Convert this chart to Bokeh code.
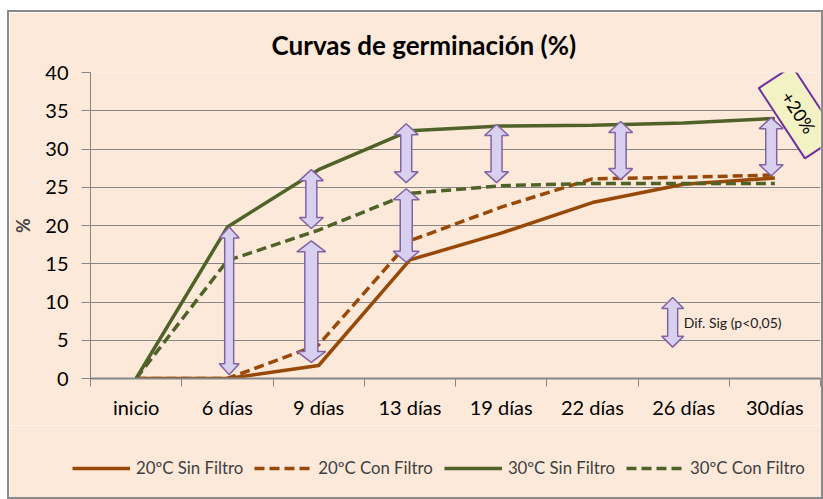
from bokeh.plotting import figure
from bokeh.models import FixedTicker, Legend, LegendItem, Range1d
from bokeh.layouts import column
from bokeh.core.properties import value
from bokeh.embed import file_html
from bokeh.resources import INLINE

categories = ["inicio", "6 días", "9 días", "13 días", "19 días", "22 días", "26 días", "30días"]
s20_sin = [0, 0, 1.7, 15.5, 19.0, 23.0, 25.4, 26.2]
s20_con = [0, 0, 4.4, 18.0, 22.4, 26.1, 26.3, 26.6]
s30_sin = [0, 19.8, 27.3, 32.4, 33.0, 33.1, 33.4, 34.0]
s30_con = [0, 15.4, 19.4, 24.2, 25.2, 25.5, 25.5, 25.5]
series_labels = ["20ºC Sin Filtro", "20ºC Con Filtro", "30ºC Sin Filtro", "30ºC Con Filtro"]

# significance arrows: x position (category units), bottom, top, sizes (px shaft half, head half)
arrow_x = [1.52, 2.42, 2.42, 3.46, 3.46, 4.45, 5.81, 7.46, 6.38]
arrow_bot = [0.5, 2.1, 19.6, 25.6, 15.2, 25.6, 26.0, 26.5, 4.1]
arrow_top = [19.8, 18.0, 27.3, 33.3, 24.8, 33.2, 33.6, 34.1, 10.6]
arrow_shaft = [4.5, 6.5, 5.5, 5.5, 6.0, 5.5, 5.5, 5.5, 5.0]
arrow_head = [10, 14.5, 12, 12, 13, 12, 12, 12, 11]

BG = "#FDE9D9"
BROWN = "#984807"
GREEN = "#4F6228"
GRID = "#868686"
FONT = "Lato"

W = 812
H_MAIN = 413
H_LEG = 72
ML, MR, MT, MB = 80, 1, 60, 47

p = figure(width=W, height=H_MAIN, output_backend="svg", toolbar_location=None,
           x_range=Range1d(0, 8), y_range=Range1d(0, 40),
           min_border_left=ML, min_border_right=MR, min_border_top=MT, min_border_bottom=MB,
           title="Curvas de germinación (%)")
p.background_fill_color = BG
p.border_fill_color = BG
p.outline_line_color = None

p.title.align = "left"
p.title.text_font = FONT
p.title.text_font_size = "26px"
p.title.text_font_style = "bold"
p.title.text_color = "#000000"
p.title.offset = 181
p.title.standoff = 23

# axes
p.xgrid.visible = False
p.ygrid.grid_line_color = GRID
p.ygrid.grid_line_width = 1
p.yaxis.ticker = FixedTicker(ticks=list(range(0, 41, 5)), minor_ticks=[])
p.yaxis.axis_line_color = GRID
p.yaxis.major_tick_line_color = GRID
p.yaxis.major_tick_out = 9
p.yaxis.major_tick_in = 0
p.yaxis.major_label_standoff = 13
p.yaxis.major_label_text_font = FONT
p.yaxis.major_label_text_font_size = "20px"
p.yaxis.major_label_text_color = "#000000"
p.yaxis.axis_label = "%"
p.yaxis.axis_label_text_font = FONT
p.yaxis.axis_label_text_font_size = "18px"
p.yaxis.axis_label_text_font_style = "bold"
p.yaxis.axis_label_standoff = 8

centers = [i + 0.5 for i in range(len(categories))]
p.xaxis.ticker = FixedTicker(ticks=centers, minor_ticks=list(range(0, 9)))
p.xaxis.major_label_overrides = {c: lab for c, lab in zip(centers, categories)}
p.xaxis.axis_line_color = GRID
p.xaxis.axis_line_width = 2
p.xaxis.major_tick_line_color = None
p.xaxis.major_tick_out = 0
p.xaxis.major_tick_in = 0
p.xaxis.minor_tick_line_color = GRID
p.xaxis.minor_tick_out = 8
p.xaxis.minor_tick_in = 0
p.xaxis.major_label_standoff = 8
p.xaxis.major_label_text_font = FONT
p.xaxis.major_label_text_font_size = "20px"
p.xaxis.major_label_text_color = "#000000"

# lines
styles = [(BROWN, "solid"), (BROWN, "10 5"), (GREEN, "solid"), (GREEN, "10 5")]
all_series = [s20_sin, s20_con, s30_sin, s30_con]
for ser, (col, dash) in zip(all_series, styles):
    p.line(centers, ser, line_color=col, line_width=3.5, line_dash=dash)

# arrows
px_x = (W - ML - MR) / 8.0
px_y = (H_MAIN - MT - MB) / 40.0
xs, ys = [], []
for xc, y0, y1, sw, hw in zip(arrow_x, arrow_bot, arrow_top, arrow_shaft, arrow_head):
    s = sw / px_x
    h = hw / px_x
    hh = 11 / px_y
    xs.append([xc, xc + h, xc + s, xc + s, xc + h, xc, xc - h, xc - s, xc - s, xc - h])
    ys.append([y1, y1 - hh, y1 - hh, y0 + hh, y0 + hh, y0, y0 + hh, y0 + hh, y1 - hh, y1 - hh])
p.patches(xs, ys, fill_color="#D9CFEF", line_color="#8064A2", line_width=1.5)

p.text(x=[6.5], y=[7.35], text=["Dif. Sig (p<0,05)"], text_font=value(FONT),
       text_font_size="14px", text_color="#1a1a1a", text_baseline="middle", text_align="left")

# +20% box
p.rect(x=[7.76], y=[34.8], width=84, height=40, width_units="screen", height_units="screen",
       angle=-0.99, fill_color="#F2F2C4", line_color="#7030A0", line_width=2)
p.text(x=[7.76], y=[34.8], text=["+20%"], angle=-0.99, text_font=value(FONT),
       text_font_size="18px", text_color="#000000", text_align="center", text_baseline="middle")

# legend strip
lg = figure(width=W, height=H_LEG, output_backend="svg", toolbar_location=None,
            x_range=Range1d(0, 1), y_range=Range1d(0, 1),
            min_border_left=0, min_border_right=0, min_border_top=0, min_border_bottom=0)
lg.axis.visible = False
lg.grid.visible = False
lg.background_fill_color = BG
lg.border_fill_color = BG
lg.outline_line_color = None
for fig_ in (p, lg):
    try:
        fig_.frame_align = False
    except Exception:
        pass
items = []
for lab, (col, dash) in zip(series_labels, styles):
    r = lg.line([5, 6], [5, 5], line_color=col, line_width=3.5, line_dash=dash)
    items.append(LegendItem(label=lab, renderers=[r]))
legend = Legend(items=items, orientation="horizontal", location=(63, 19))
legend.glyph_width = 58
legend.glyph_height = 20
legend.label_standoff = 6
legend.spacing = 11
legend.label_text_font = FONT
legend.label_text_font_size = "16.8px"
legend.label_text_color = "#404040"
legend.label_height = 20
legend.background_fill_alpha = 0
legend.border_line_color = None
legend.margin = 0
legend.padding = 0
lg.add_layout(legend)

layout = column(p, lg, spacing=0)
layout.styles = {"border": "2px solid #8a8a8a", "margin-left": "7px", "margin-top": "10px"}

open("out.html", "w").write(file_html(layout, INLINE))
